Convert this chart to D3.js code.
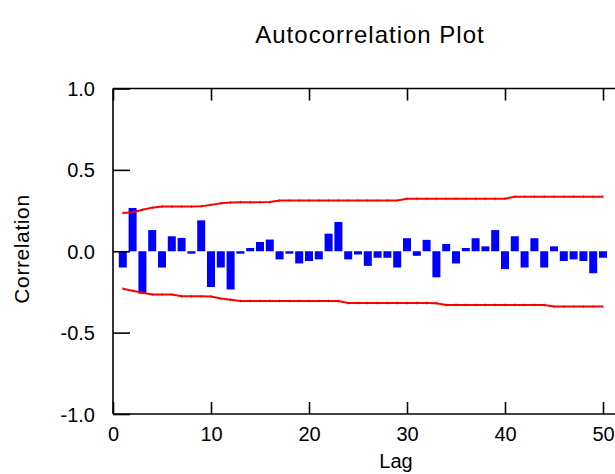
<!DOCTYPE html>
<html>
<head>
<meta charset="utf-8">
<script src="https://cdn.jsdelivr.net/npm/d3@7"></script>
<style>
	body { margin: 0; background: #fff; }
	svg { display: block; }
	text { font-family: "Liberation Sans", Arial, sans-serif; fill: #000; }
</style>
</head>
<body>
<svg id="chart"></svg>
<script>

	// autocorrelation per lag (1..50)
	var lags	=	d3.range(1, 51);
	var acf		=	[-0.10, 0.266, -0.26, 0.13, -0.10, 0.092, 0.082, -0.015, 0.19, -0.22,
					-0.10, -0.235, -0.015, 0.02, 0.057, 0.072, -0.05, -0.015, -0.075, -0.06,
					-0.05, 0.108, 0.18, -0.05, -0.02, -0.09, -0.04, -0.04, -0.10, 0.08,
					-0.028, 0.07, -0.16, 0.045, -0.075, 0.02, 0.08, 0.03, 0.13, -0.11,
					0.092, -0.10, 0.08, -0.10, 0.03, -0.06, -0.05, -0.06, -0.135, -0.04];

	// probability limits
	var upperLimit	=	[0.235, 0.24, 0.255, 0.268, 0.275, 0.275, 0.275, 0.275, 0.276, 0.285,
						0.295, 0.30, 0.301, 0.301, 0.301, 0.302, 0.312, 0.312, 0.312, 0.312,
						0.312, 0.312, 0.312, 0.312, 0.312, 0.312, 0.312, 0.312, 0.312, 0.322,
						0.322, 0.322, 0.322, 0.322, 0.322, 0.322, 0.322, 0.322, 0.322, 0.323,
						0.335, 0.335, 0.335, 0.335, 0.335, 0.335, 0.335, 0.335, 0.335, 0.335];
	var lowerLimit	=	[-0.23, -0.243, -0.255, -0.266, -0.266, -0.266, -0.277, -0.277, -0.277, -0.278,
						-0.29, -0.298, -0.305, -0.305, -0.305, -0.305, -0.305, -0.305, -0.305, -0.305,
						-0.305, -0.305, -0.306, -0.318, -0.318, -0.318, -0.318, -0.318, -0.318, -0.318,
						-0.318, -0.318, -0.319, -0.33, -0.33, -0.33, -0.33, -0.33, -0.33, -0.33,
						-0.33, -0.33, -0.33, -0.331, -0.34, -0.34, -0.34, -0.34, -0.34, -0.34];

	var xTicks	=	[0, 10, 20, 30, 40, 50];
	var yTicks	=	[-1.0, -0.5, 0.0, 0.5, 1.0];

	(function() {

		var width	=	615;
		var height	=	474;
		var pLeft	=	113;
		var pRight	=	603;
		var pTop	=	88.5;
		var pBottom	=	414;

		var svg = d3.select("#chart")
		.attr("width", width)
		.attr("height", height);

		var x = d3.scaleLinear().domain([0, 50]).range([pLeft, pRight]);
		var y = d3.scaleLinear().domain([-1, 1]).range([pBottom, pTop]);

		var barW = 8;

		// bars
		svg.append("g")
		.attr("class", "bars")
		.selectAll("rect")
		.data(lags)
		.enter().append("rect")
		.attr("x", function(d) { return x(d) - barW / 2; })
		.attr("width", barW)
		.attr("y", function(d, i) { return Math.min(y(acf[i]), y(0)); })
		.attr("height", function(d, i) { return Math.abs(y(acf[i]) - y(0)); })
		.attr("fill", "#0000ff");

		// limit lines
		var line = d3.line()
		.x(function(d) { return x(d[0]); })
		.y(function(d) { return y(d[1]); });

		[upperLimit, lowerLimit].forEach(function(lim) {

			var pts = lags.map(function(l, i) { return [l, lim[i]]; });

			svg.append("path")
			.datum(pts)
			.attr("d", line)
			.attr("fill", "none")
			.attr("stroke", "#ff0000")
			.attr("stroke-width", 2);

			svg.append("g")
			.selectAll("line")
			.data(pts)
			.enter().append("line")
			.attr("x1", function(d) { return x(d[0]); })
			.attr("x2", function(d) { return x(d[0]); })
			.attr("y1", function(d) { return y(d[1]) - 1.5; })
			.attr("y2", function(d) { return y(d[1]) + 1.5; })
			.attr("stroke", "#d00000")
			.attr("stroke-width", 0.6);
		});

		// frame: left, top, bottom (no right side)
		var frame = svg.append("g")
		.attr("stroke", "#000")
		.attr("stroke-width", 1.6)
		.attr("fill", "none");

		frame.append("line").attr("x1", pLeft).attr("x2", pLeft).attr("y1", pTop).attr("y2", pBottom);
		frame.append("line").attr("x1", pLeft).attr("x2", width).attr("y1", pTop).attr("y2", pTop);
		frame.append("line").attr("x1", pLeft).attr("x2", width).attr("y1", pBottom).attr("y2", pBottom);

		// hyphen minus like the original
		var fmtY = function(d) { return d3.format(".1f")(d).replace("\u2212", "-"); };

		// x ticks, top and bottom, inward
		var xAxisB = d3.axisBottom(x).tickValues(xTicks).tickSizeInner(-12).tickSizeOuter(0).tickPadding(13)
		.tickFormat(d3.format("d"));
		var gxB = svg.append("g")
		.attr("transform", "translate(0," + pBottom + ")")
		.call(xAxisB);

		var xAxisT = d3.axisTop(x).tickValues(xTicks).tickSizeInner(-12).tickSizeOuter(0).tickFormat("");
		var gxT = svg.append("g")
		.attr("transform", "translate(0," + pTop + ")")
		.call(xAxisT);

		// y ticks, inward
		var yAxis = d3.axisLeft(y).tickValues(yTicks).tickSizeInner(-17).tickSizeOuter(0).tickPadding(18)
		.tickFormat(fmtY);
		var gy = svg.append("g")
		.attr("transform", "translate(" + pLeft + ",0)")
		.call(yAxis);

		[gxB, gxT, gy].forEach(function(g) {
			g.select(".domain").remove();
			g.selectAll(".tick line").attr("stroke", "#000").attr("stroke-width", 1.6);
			g.selectAll(".tick text")
			.attr("font-family", "Liberation Sans, Arial, sans-serif")
			.attr("font-size", 20)
			.attr("fill", "#000");
		});
		gy.selectAll(".tick text").attr("dy", "0.35em");

		// titles
		svg.append("text")
		.attr("x", 370)
		.attr("y", 43)
		.attr("text-anchor", "middle")
		.attr("font-size", 24)
		.attr("letter-spacing", 1)
		.text("Autocorrelation Plot");

		svg.append("text")
		.attr("x", 396)
		.attr("y", 468)
		.attr("text-anchor", "middle")
		.attr("font-size", 20)
		.text("Lag");

		svg.append("text")
		.attr("transform", "translate(29,249) rotate(-90)")
		.attr("text-anchor", "middle")
		.attr("font-size", 21)
		.attr("letter-spacing", 0.6)
		.text("Correlation");
	})();

</script>
</body>
</html>
